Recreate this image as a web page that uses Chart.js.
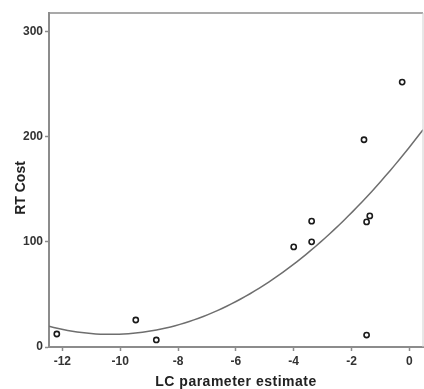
<!DOCTYPE html>
<html>
<head>
<meta charset="utf-8">
<script src="https://cdn.jsdelivr.net/npm/chart.js@4.4.1/dist/chart.umd.min.js"></script>
<style>
  html, body { margin: 0; padding: 0; background: #fff; }
  #wrap { width: 424px; height: 389px; }
</style>
</head>
<body>
<div id="wrap"><canvas id="chart" width="424" height="389"></canvas></div>
<script>
// values
const lcEstimate = [-12.19, -9.46, -8.75, -4.0, -3.38, -3.38, -1.48, -1.37, -1.48, -1.57, -0.25];
const rtCost = [12.4, 25.7, 6.7, 95.3, 100.1, 119.8, 119.1, 124.8, 11.4, 197.3, 252.2];
const xTicks = [-12, -10, -8, -6, -4, -2, 0];
const yTicks = [0, 100, 200, 300];
const xRange = [-12.46, 0.47];
const yRange = [0, 318];
const xTitle = "LC parameter estimate";
const yTitle = "RT Cost";

// quadratic least squares fit of the points (the curve in the original)
function quadFit(xs, ys) {
  const S = [0, 0, 0, 0, 0], T = [0, 0, 0];
  xs.forEach((x, i) => {
    for (let k = 0; k < 5; k++) S[k] += Math.pow(x, k);
    for (let k = 0; k < 3; k++) T[k] += ys[i] * Math.pow(x, k);
  });
  const m = [
    [S[0], S[1], S[2], T[0]],
    [S[1], S[2], S[3], T[1]],
    [S[2], S[3], S[4], T[2]]
  ];
  for (let c = 0; c < 3; c++) {
    for (let r = c + 1; r < 3; r++) {
      const f = m[r][c] / m[c][c];
      for (let k = c; k < 4; k++) m[r][k] -= f * m[c][k];
    }
  }
  const b = [0, 0, 0];
  for (let r = 2; r >= 0; r--) {
    let s = m[r][3];
    for (let k = r + 1; k < 3; k++) s -= m[r][k] * b[k];
    b[r] = s / m[r][r];
  }
  return b;
}

const coef = quadFit(lcEstimate, rtCost);
const fitLine = [];
for (let i = 0; i <= 80; i++) {
  const x = xRange[0] + (xRange[1] - xRange[0]) * i / 80;
  fitLine.push({x: x, y: coef[0] + coef[1] * x + coef[2] * x * x});
}

const axisColor = "#8c8c8c";
const textColor = "#333";

const framePlugin = {
  id: "frame",
  afterDraw(chart) {
    const ctx = chart.ctx;
    const a = chart.chartArea;
    ctx.save();
    ctx.strokeStyle = axisColor;
    ctx.lineWidth = 1.5;
    ctx.beginPath();
    ctx.moveTo(a.left, a.top);
    ctx.lineTo(a.right, a.top);
    ctx.stroke();
    ctx.strokeStyle = "#d0d0d0";
    ctx.lineWidth = 1;
    ctx.beginPath();
    ctx.moveTo(a.right, a.top);
    ctx.lineTo(a.right, a.bottom);
    ctx.stroke();
    // axis titles
    ctx.fillStyle = "#222";
    ctx.font = "bold 14px 'Liberation Sans', Arial, sans-serif";
    ctx.letterSpacing = "0.5px";
    ctx.textAlign = "center";
    ctx.textBaseline = "middle";
    ctx.fillText(xTitle, (a.left + a.right) / 2, 382);
    ctx.letterSpacing = "0px";
    ctx.translate(21, 188);
    ctx.rotate(-Math.PI / 2);
    ctx.fillText(yTitle, 0, 0);
    ctx.restore();
  }
};

new Chart(document.getElementById("chart"), {
  type: "scatter",
  data: {
    datasets: [
      {
        label: "fit",
        type: "line",
        data: fitLine,
        borderColor: "#6e6e6e",
        borderWidth: 1.5,
        pointRadius: 0,
        pointHoverRadius: 0,
        fill: false,
        tension: 0
      },
      {
        label: "RT Cost",
        data: lcEstimate.map((x, i) => ({x: x, y: rtCost[i]})),
        pointRadius: 2.6,
        pointBorderWidth: 1.6,
        pointBorderColor: "#1a1a1a",
        pointBackgroundColor: "#fff"
      }
    ]
  },
  options: {
    responsive: false,
    animation: false,
    layout: { autoPadding: false, padding: { top: 13, right: 1, left: 0, bottom: 0 } },
    plugins: { legend: { display: false }, tooltip: { enabled: false } },
    scales: {
      x: {
        type: "linear",
        min: xRange[0],
        max: xRange[1],
        afterBuildTicks: s => { s.ticks = xTicks.map(v => ({value: v})); },
        afterFit: s => { s.height = 42; s.paddingLeft = 0; s.paddingRight = 0; },
        grid: { drawOnChartArea: false, drawTicks: true, tickLength: 4, tickColor: axisColor, tickWidth: 1.5 },
        border: { color: axisColor, width: 2 },
        ticks: {
          color: textColor,
          padding: 3,
          maxRotation: 0,
          font: { family: "'Liberation Sans', Arial, sans-serif", size: 12, weight: "bold" }
        }
      },
      y: {
        type: "linear",
        min: yRange[0],
        max: yRange[1],
        afterBuildTicks: s => { s.ticks = yTicks.map(v => ({value: v})); },
        afterFit: s => { s.width = 49; s.paddingTop = 0; s.paddingBottom = 0; },
        grid: { drawOnChartArea: false, drawTicks: true, tickLength: 4, tickColor: axisColor, tickWidth: 1.5 },
        border: { color: axisColor, width: 2 },
        ticks: {
          color: textColor,
          padding: 2,
          font: { family: "'Liberation Sans', Arial, sans-serif", size: 12, weight: "bold" }
        }
      }
    }
  },
  plugins: [framePlugin]
});
</script>
</body>
</html>
